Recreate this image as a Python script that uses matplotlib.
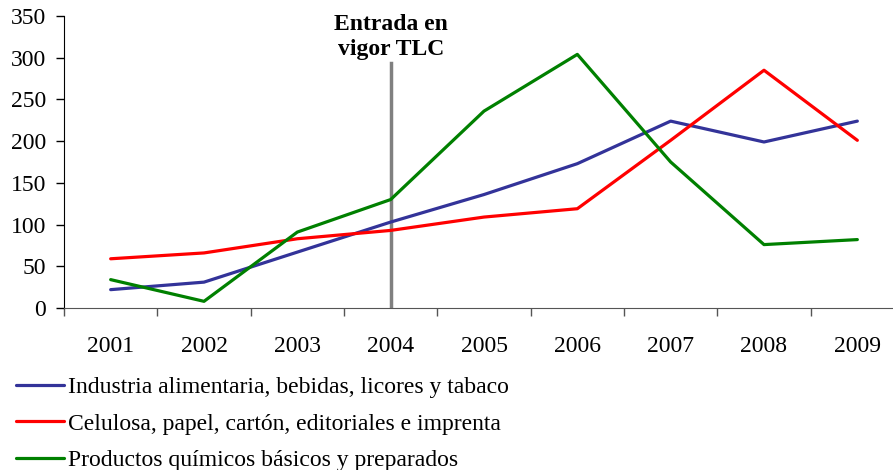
import matplotlib
matplotlib.use('Agg')
import matplotlib.pyplot as plt
import numpy as np

# --- Data ---
years = ['2001', '2002', '2003', '2004', '2005', '2006', '2007', '2008', '2009']
alimentaria = [22, 31, 67, 103, 136, 173, 224, 199, 224]
celulosa = [59, 66, 83, 93, 109, 119, 201, 285, 201]
quimicos = [34, 8, 91, 130, 236, 304, 175, 76, 82]

labels = [
    'Industria alimentaria, bebidas, licores y tabaco',
    'Celulosa, papel, cartón, editoriales e imprenta',
    'Productos químicos básicos y preparados',
]
colors = ['#333399', '#FF0000', '#008000']

tlc_year = '2004'
tlc_top = 294
tlc_text = 'Entrada en\nvigor TLC'

# --- Style ---
FONT = 'Liberation Serif'
FS = 17
plt.rcParams['font.family'] = FONT

fig = plt.figure(figsize=(8.93, 4.70), dpi=100)
ax = fig.add_axes([64 / 893, 1 - 308 / 470, 840 / 893, 292 / 470])

x = np.arange(len(years))
lines = []
for vals, lab, col in zip([alimentaria, celulosa, quimicos], labels, colors):
    ln, = ax.plot(x, vals, color=col, lw=2.3, label=lab, solid_capstyle='round')
    lines.append(ln)

xi = years.index(tlc_year)
ax.plot([xi, xi], [0, tlc_top], color='#808080', lw=2.5, zorder=1)
ax.text(xi, 352, tlc_text, ha='center', va='top', fontsize=FS,
        fontweight='bold', linespacing=1.2)

ax.set_xlim(-0.5, len(years) - 0.5)
ax.set_ylim(0, 350)
ax.set_yticks(np.arange(0, 351, 50))
ax.set_xticks(x)
ax.set_xticklabels(years)
ax.set_xticks(np.arange(-0.5, len(years), 1), minor=True)
ax.tick_params(axis='x', which='major', length=0, pad=20, labelsize=FS)
ax.tick_params(axis='x', which='minor', length=6, width=1, color='#555555')
ax.tick_params(axis='y', length=6, width=1, pad=7, labelsize=FS)

for s in ['top', 'right']:
    ax.spines[s].set_visible(False)
ax.spines['bottom'].set_color('#555555')
ax.spines['left'].set_color('black')

fig.legend(handles=lines, loc='upper left', bbox_to_anchor=(7 / 893, 1 - 367 / 470),
           frameon=False, fontsize=FS, handlelength=2.0, handletextpad=0.2,
           labelspacing=0.64, borderaxespad=0)

fig.savefig('out.png', dpi=100)
